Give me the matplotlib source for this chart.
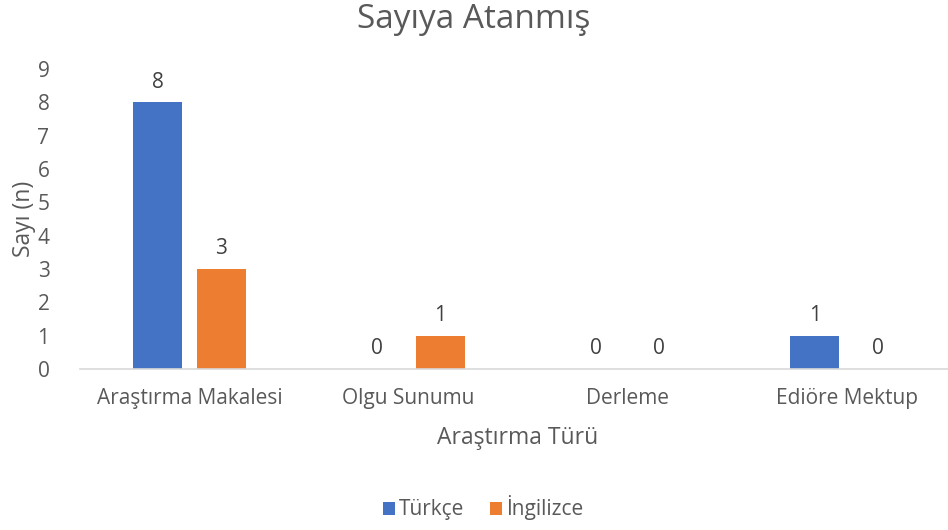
import numpy as np
import matplotlib.pyplot as plt

# chart data
categories = ["Araştırma Makalesi", "Olgu Sunumu", "Derleme", "Ediöre Mektup"]
turkce = [8, 0, 0, 1]
ingilizce = [3, 1, 0, 0]
series_names = ["Türkçe", "İngilizce"]
yticks = list(range(0, 10))

BLUE = "#4472C4"
ORANGE = "#ED7D31"
TXT = "#595959"

plt.rcParams['font.family'] = ['Open Sans', 'DejaVu Sans']

W, H = 948, 530
fig = plt.figure(figsize=(W / 100, H / 100), dpi=100)
# plot area in pixel terms (left, bottom, width, height)
ax = fig.add_axes([80 / W, (H - 369) / H, 876 / W, 300 / H])

x = np.arange(len(categories))
bw = 0.224
off = 0.144
b1 = ax.bar(x - off, turkce, bw, color=BLUE, label=series_names[0])
b2 = ax.bar(x + off, ingilizce, bw, color=ORANGE, label=series_names[1])

for bars in (b1, b2):
    ax.bar_label(bars, padding=7, fontsize=15, color="#404040")

ax.set_xlim(-0.5, len(categories) - 0.5)
ax.set_ylim(0, 9)
ax.set_yticks(yticks)
ax.set_xticks(x)
ax.set_xticklabels(categories)
ax.tick_params(axis='both', length=0, labelsize=15, labelcolor=TXT)
ax.tick_params(axis='x', pad=14)
ax.tick_params(axis='y', pad=22)

for s in ("top", "right", "left"):
    ax.spines[s].set_visible(False)
ax.spines["bottom"].set_color("#D9D9D9")
ax.spines["bottom"].set_linewidth(1.2)

ax.set_xlabel("Araştırma Türü", fontsize=16.5, color=TXT, labelpad=12)
ax.set_ylabel("Sayı (n)", fontsize=16.5, color=TXT, labelpad=1)

fig.text(0.5, 1 - 19 / H, "Sayıya Atanmış", ha="center", va="center",
         fontsize=24, color=TXT)

fig.legend(handles=[b1, b2], loc="center", bbox_to_anchor=(483 / W, 1 - 508 / H),
           ncol=2, frameon=False, fontsize=15, labelcolor=TXT,
           handlelength=0.6, handleheight=0.6, handletextpad=0.2,
           columnspacing=1.2)

fig.savefig("out.png", dpi=100)
